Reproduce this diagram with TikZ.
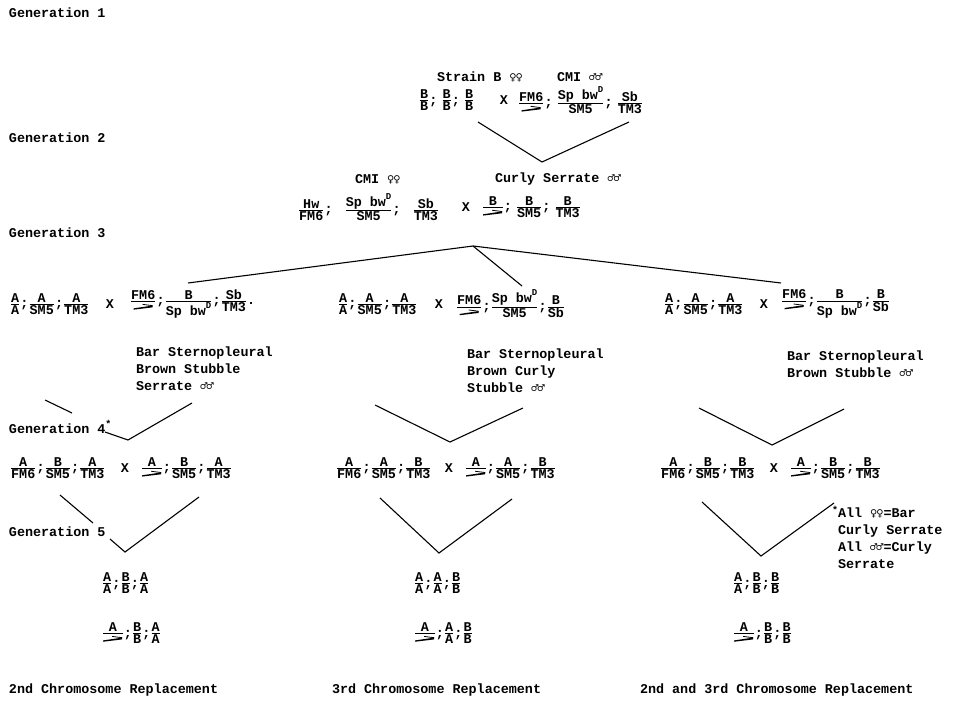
\documentclass[tikz,border=0pt]{standalone}
\usepackage{amsmath}
\usepackage{fontspec}
\setmainfont{Liberation Mono}
\newfontfamily\sexf{DejaVu Sans Mono}
% type used inside the genotype fractions
\newcommand\frf{\bfseries\fontsize{13.4}{14}\selectfont}
% one chromosome pair: upper over lower, with a bar between
\newcommand\fr[2]{\ensuremath{\genfrac{}{}{0.8pt}{1}{\hbox{\frf #1}}{\hbox{\frf #2}}}}
\newcommand\gsep{{\frf;}}
\newcommand\gsp{\gsep\hspace{4pt}}
\newcommand\gwide{\gsep\hspace{12pt}}
\newcommand\dom{\raisebox{1ex}{\fontsize{9}{9}\selectfont D}}
% balancer symbol (harpoon-like bar)
\newcommand\bal{\tikz[baseline=0pt,x=1pt,y=1pt]{\fill (0,0.3) -- (19,2.6) -- (19,4.4) -- (0,1.6) -- cycle; \draw[line width=.8pt] (9,5.6) -- (19,4.3);}}
\newcommand\fem{{\sexf\bfseries\fontsize{12}{12}\selectfont ♀\kern-1pt♀}}
\newcommand\mal{{\sexf\bfseries\fontsize{12}{12}\selectfont ♂\kern-1pt♂}}
\begin{document}
\begin{tikzpicture}[x=1pt,y=-1pt,
  every node/.style={inner sep=0pt,outer sep=0pt,font=\bfseries\fontsize{13.4}{17}\selectfont},
  lbl/.style={anchor=west},
  geno/.style={anchor=west},
  cross/.style={anchor=center},
  block/.style={anchor=north west,align=left},
  link/.style={line width=1.1pt}]
\useasboundingbox[fill=white] (0,0) rectangle (965,701);

% generation labels
\node[lbl] (gen1) at (9,13) {Generation 1};
\node[lbl] (gen2) at (9,138) {Generation 2};
\node[lbl] (gen3) at (9,233) {Generation 3};
\node[lbl] (gen4) at (9,427) {Generation 4\raisebox{0.8ex}{\fontsize{10}{10}\selectfont*}};
\node[lbl] (gen5) at (9,532) {Generation 5};

% generation 1
\node[lbl] (sb) at (437,77) {Strain B \fem};
\node[lbl] (cmi1) at (557,77) {CMI \mal};
\node[geno] (g1f) at (419,100) {\fr{B}{B}\gsp\fr{B}{B}\gsp\fr{B}{B}};
\node[cross] (x1) at (504,100) {X};
\node[geno] (g1m) at (518,100) {\fr{FM6}{\bal}\gsp\fr{Sp bw\dom}{SM5}\gsp\fr{Sb}{TM3}};
\coordinate (v1l) at (478,122);
\coordinate (v1b) at (542,162);
\coordinate (v1r) at (629,122);
\draw[link] (v1l) -- (v1b) -- (v1r);

% generation 2
\node[lbl] (cmi2) at (355,179) {CMI \fem};
\node[lbl] (cs) at (495,179) {Curly Serrate \mal};
\node[geno] (g2f) at (298,207) {\fr{Hw}{FM6}\gwide\fr{Sp bw\dom}{SM5}\gwide\fr{Sb}{TM3}};
\node[cross] (x2) at (466,207) {X};
\node[geno] (g2m) at (482,207) {\fr{B}{\bal}\gsp\fr{B}{SM5}\gsp\fr{B}{TM3}};

% generation 3
\coordinate (apex) at (473,246);
\coordinate (a3l) at (188,283);
\coordinate (a3m) at (522,286);
\coordinate (a3r) at (781,283);
\draw[link] (a3l) -- (apex) -- (a3r);
\draw[link] (apex) -- (a3m);

\node[geno] (g3af) at (10,304) {\fr{A}{A}\gsep\fr{A}{SM5}\gsep\fr{A}{TM3}};
\node[cross] (x3a) at (110,304) {X};
\node[geno] (g3am) at (130,304) {\fr{FM6}{\bal}\gsep\fr{B}{Sp bw\dom}\gsep\fr{Sb}{TM3}\hbox{\frf .}};

\node[geno] (g3bf) at (338,304) {\fr{A}{A}\gsep\fr{A}{SM5}\gsep\fr{A}{TM3}};
\node[cross] (x3b) at (439,304) {X};
\node[geno] (g3bm) at (456,304) {\fr{FM6}{\bal}\gsep\fr{Sp bw\dom}{SM5}\gsep\fr{B}{Sb}};

\node[geno] (g3cf) at (664,304) {\fr{A}{A}\gsep\fr{A}{SM5}\gsep\fr{A}{TM3}};
\node[cross] (x3c) at (764,304) {X};
\node[geno] (g3cm) at (781,304) {\fr{FM6}{\bal}\gsep\fr{B}{Sp bw\dom}\gsep\fr{B}{Sb}};

\node[block] (p3a) at (136,347) {Bar Sternopleural\\Brown Stubble\\Serrate \mal};
\node[block] (p3b) at (467,349) {Bar Sternopleural\\Brown Curly\\Stubble \mal};
\node[block] (p3c) at (787,351) {Bar Sternopleural\\Brown Stubble \mal};

% generation 3 to 4
\coordinate (v4al) at (45,400);
\coordinate (v4ag) at (72,413);
\coordinate (v4ah) at (105,432);
\coordinate (v4ab) at (128,440);
\coordinate (v4ar) at (192,403);
\draw[link] (v4al) -- (v4ag);
\draw[link] (v4ah) -- (v4ab) -- (v4ar);
\coordinate (v4bl) at (375,405);
\coordinate (v4bb) at (450,442);
\coordinate (v4br) at (523,408);
\draw[link] (v4bl) -- (v4bb) -- (v4br);
\coordinate (v4cl) at (699,408);
\coordinate (v4cb) at (772,445);
\coordinate (v4cr) at (844,409);
\draw[link] (v4cl) -- (v4cb) -- (v4cr);

% generation 4
\node[geno] (g4af) at (10,468) {\fr{A}{FM6}\gsep\fr{B}{SM5}\gsep\fr{A}{TM3}};
\node[cross] (x4a) at (125,468) {X};
\node[geno] (g4am) at (141,468) {\fr{A}{\bal}\gsep\fr{B}{SM5}\gsep\fr{A}{TM3}};
\node[geno] (g4bf) at (336,468) {\fr{A}{FM6}\gsep\fr{A}{SM5}\gsep\fr{B}{TM3}};
\node[cross] (x4b) at (449,468) {X};
\node[geno] (g4bm) at (465,468) {\fr{A}{\bal}\gsep\fr{A}{SM5}\gsep\fr{B}{TM3}};
\node[geno] (g4cf) at (660,468) {\fr{A}{FM6}\gsep\fr{B}{SM5}\gsep\fr{B}{TM3}};
\node[cross] (x4c) at (774,468) {X};
\node[geno] (g4cm) at (790,468) {\fr{A}{\bal}\gsep\fr{B}{SM5}\gsep\fr{B}{TM3}};

% generation 4 to 5
\coordinate (v5al) at (60,495);
\coordinate (v5ag) at (93,523);
\coordinate (v5ah) at (110,539);
\coordinate (v5ab) at (125,552);
\coordinate (v5ar) at (199,497);
\draw[link] (v5al) -- (v5ag);
\draw[link] (v5ah) -- (v5ab) -- (v5ar);
\coordinate (v5bl) at (380,498);
\coordinate (v5bb) at (439,553);
\coordinate (v5br) at (512,499);
\draw[link] (v5bl) -- (v5bb) -- (v5br);
\coordinate (v5cl) at (702,502);
\coordinate (v5cb) at (761,556);
\coordinate (v5cr) at (834,503);
\draw[link] (v5cl) -- (v5cb) -- (v5cr);

\node[block] (note) at (838,506) {\llap{\raisebox{0.6ex}{\fontsize{10}{10}\selectfont*}}All \fem=Bar\\Curly Serrate\\All \mal=Curly\\Serrate};

% generation 5
\node[geno] (r1a) at (102,583) {\fr{A}{A}\gsep\fr{B}{B}\gsep\fr{A}{A}};
\node[geno] (r1b) at (102,633) {\fr{A}{\bal}\gsep\fr{B}{B}\gsep\fr{A}{A}};
\node[geno] (r2a) at (414,583) {\fr{A}{A}\gsep\fr{A}{A}\gsep\fr{B}{B}};
\node[geno] (r2b) at (414,633) {\fr{A}{\bal}\gsep\fr{A}{A}\gsep\fr{B}{B}};
\node[geno] (r3a) at (733,583) {\fr{A}{A}\gsep\fr{B}{B}\gsep\fr{B}{B}};
\node[geno] (r3b) at (733,633) {\fr{A}{\bal}\gsep\fr{B}{B}\gsep\fr{B}{B}};

% outcomes
\node[lbl] (o1) at (9,690) {2nd Chromosome Replacement};
\node[lbl] (o2) at (332,690) {3rd Chromosome Replacement};
\node[lbl] (o3) at (640,690) {2nd and 3rd Chromosome Replacement};
\end{tikzpicture}
\end{document}
